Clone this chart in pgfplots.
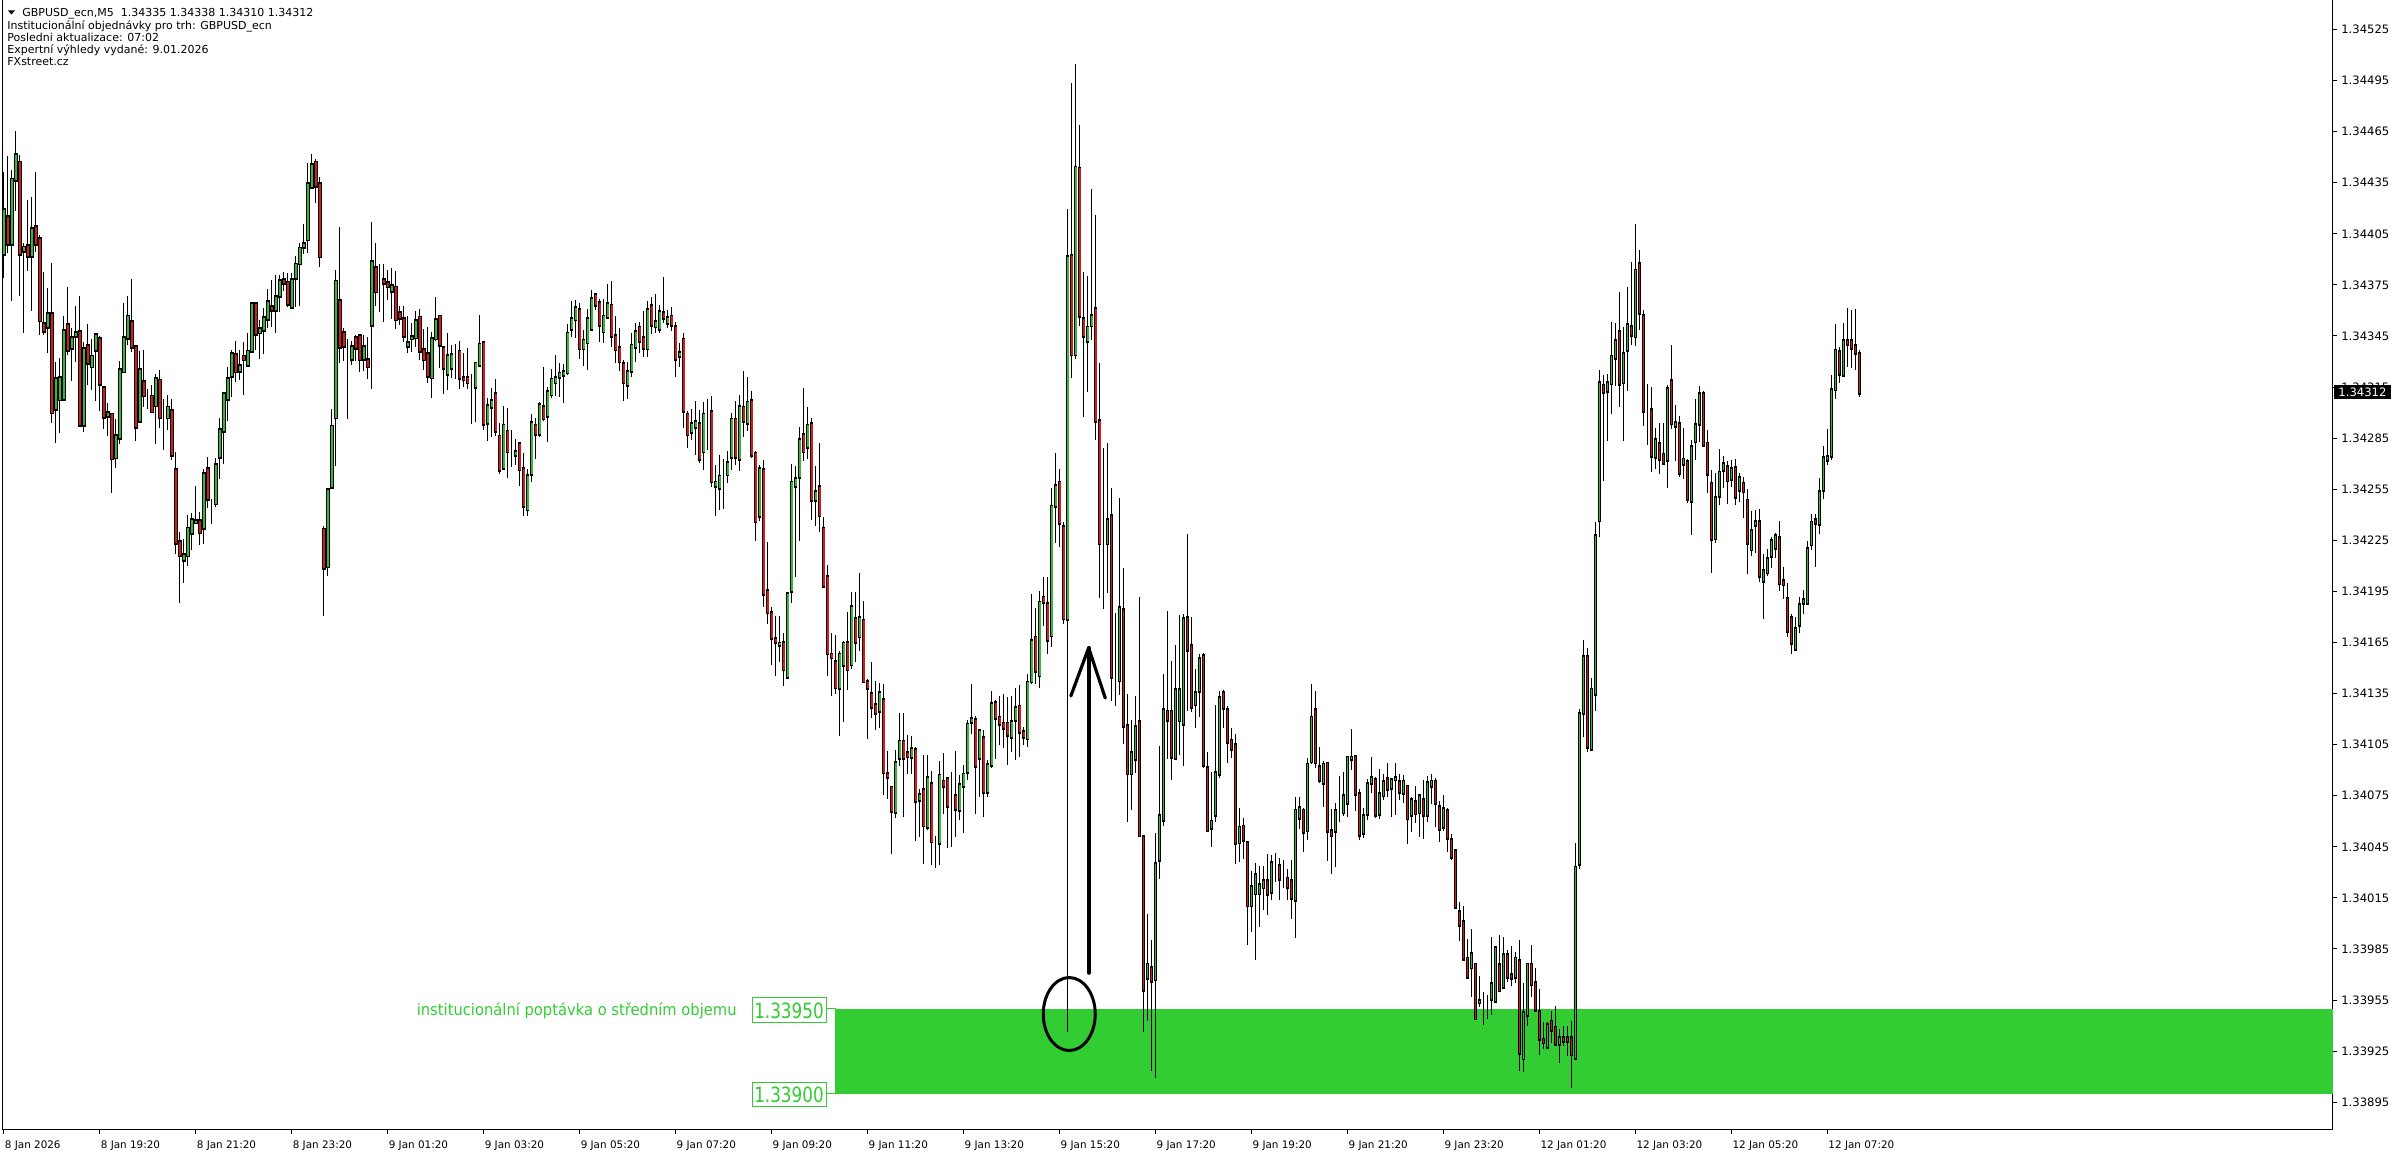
\documentclass[border=0pt]{standalone}
\usepackage{fontspec}
\setmainfont{DejaVu Sans}
\usepackage{pgfplots}
\pgfplotsset{compat=1.18}
\usepackage{pgfplotstable}
\usepackage{graphicx}

\definecolor{bull}{RGB}{52,185,52}
\definecolor{bear}{RGB}{215,25,25}
\definecolor{zone}{RGB}{50,205,50}
\newcommand{\tickfont}{\fontsize{5.2}{6}\selectfont}
\newcommand{\ytickfont}{\fontsize{5.8}{6.5}\selectfont}
\newcommand{\hdrfont}{\fontsize{5.5}{6.5}\selectfont}

% M5 candles, one row per bar: open high low close
\pgfplotstableread{
o h l c
1.34393 1.34442 1.34380 1.34419
1.34416 1.34452 1.34395 1.34400
1.34400 1.34443 1.34366 1.34438
1.34437 1.34466 1.34419 1.34452
1.34447 1.34452 1.34369 1.34393
1.34396 1.34400 1.34347 1.34398
1.34398 1.34425 1.34383 1.34392
1.34392 1.34427 1.34360 1.34408
1.34410 1.34442 1.34395 1.34400
1.34403 1.34405 1.34346 1.34355
1.34354 1.34383 1.34346 1.34350
1.34350 1.34373 1.34335 1.34358
1.34359 1.34389 1.34295 1.34301
1.34302 1.34331 1.34283 1.34320
1.34308 1.34332 1.34288 1.34321
1.34309 1.34357 1.34308 1.34349
1.34352 1.34375 1.34335 1.34337
1.34339 1.34350 1.34319 1.34345
1.34346 1.34363 1.34330 1.34348
1.34349 1.34370 1.34293 1.34294
1.34294 1.34342 1.34289 1.34339
1.34339 1.34352 1.34316 1.34329
1.34329 1.34344 1.34314 1.34335
1.34337 1.34347 1.34308 1.34346
1.34345 1.34346 1.34302 1.34318
1.34315 1.34317 1.34292 1.34298
1.34298 1.34306 1.34287 1.34300
1.34300 1.34300 1.34254 1.34274
1.34274 1.34297 1.34268 1.34287
1.34285 1.34331 1.34282 1.34325
1.34325 1.34366 1.34325 1.34345
1.34345 1.34369 1.34340 1.34358
1.34354 1.34379 1.34336 1.34339
1.34339 1.34339 1.34284 1.34292
1.34295 1.34337 1.34295 1.34325
1.34318 1.34337 1.34304 1.34310
1.34308 1.34315 1.34303 1.34308
1.34310 1.34316 1.34300 1.34301
1.34305 1.34323 1.34282 1.34321
1.34320 1.34325 1.34291 1.34298
1.34297 1.34308 1.34278 1.34297
1.34298 1.34312 1.34291 1.34304
1.34302 1.34308 1.34272 1.34276
1.34267 1.34277 1.34217 1.34224
1.34224 1.34231 1.34189 1.34216
1.34214 1.34227 1.34201 1.34217
1.34217 1.34241 1.34211 1.34233
1.34230 1.34242 1.34220 1.34238
1.34237 1.34257 1.34237 1.34238
1.34237 1.34242 1.34223 1.34230
1.34233 1.34268 1.34224 1.34265
1.34267 1.34274 1.34244 1.34249
1.34248 1.34250 1.34235 1.34248
1.34247 1.34274 1.34245 1.34270
1.34274 1.34298 1.34262 1.34290
1.34290 1.34313 1.34271 1.34312
1.34308 1.34327 1.34295 1.34320
1.34322 1.34338 1.34310 1.34335
1.34335 1.34344 1.34320 1.34325
1.34326 1.34337 1.34319 1.34329
1.34334 1.34343 1.34312 1.34332
1.34329 1.34347 1.34327 1.34337
1.34337 1.34366 1.34336 1.34365
1.34365 1.34365 1.34339 1.34347
1.34347 1.34355 1.34332 1.34349
1.34349 1.34362 1.34335 1.34356
1.34356 1.34373 1.34350 1.34366
1.34363 1.34379 1.34351 1.34361
1.34361 1.34382 1.34348 1.34369
1.34370 1.34382 1.34360 1.34379
1.34379 1.34382 1.34371 1.34377
1.34378 1.34382 1.34362 1.34365
1.34363 1.34382 1.34362 1.34379
1.34380 1.34393 1.34363 1.34388
1.34388 1.34400 1.34363 1.34397
1.34397 1.34412 1.34394 1.34399
1.34402 1.34446 1.34393 1.34435
1.34434 1.34453 1.34433 1.34447
1.34448 1.34449 1.34423 1.34434
1.34436 1.34439 1.34386 1.34393
1.34232 1.34234 1.34181 1.34209
1.34210 1.34257 1.34205 1.34255
1.34257 1.34302 1.34256 1.34293
1.34298 1.34384 1.34269 1.34378
1.34366 1.34409 1.34329 1.34339
1.34347 1.34350 1.34331 1.34339
1.34339 1.34345 1.34298 1.34339
1.34332 1.34343 1.34329 1.34339
1.34345 1.34347 1.34332 1.34339
1.34346 1.34347 1.34325 1.34332
1.34332 1.34346 1.34325 1.34339
1.34332 1.34346 1.34321 1.34328
1.34353 1.34413 1.34315 1.34390
1.34386 1.34400 1.34363 1.34372
1.34376 1.34388 1.34360 1.34376
1.34378 1.34388 1.34354 1.34376
1.34377 1.34384 1.34366 1.34375
1.34373 1.34386 1.34356 1.34376
1.34375 1.34384 1.34350 1.34356
1.34359 1.34363 1.34352 1.34356
1.34357 1.34363 1.34342 1.34347
1.34340 1.34358 1.34336 1.34342
1.34345 1.34353 1.34336 1.34346
1.34345 1.34361 1.34340 1.34355
1.34356 1.34362 1.34332 1.34336
1.34338 1.34349 1.34325 1.34332
1.34335 1.34351 1.34318 1.34322
1.34322 1.34348 1.34309 1.34345
1.34345 1.34369 1.34343 1.34356
1.34356 1.34357 1.34327 1.34339
1.34339 1.34340 1.34312 1.34327
1.34323 1.34349 1.34315 1.34334
1.34328 1.34341 1.34322 1.34336
1.34336 1.34342 1.34321 1.34336
1.34336 1.34343 1.34315 1.34320
1.34321 1.34335 1.34315 1.34320
1.34321 1.34339 1.34315 1.34318
1.34317 1.34323 1.34294 1.34317
1.34315 1.34330 1.34295 1.34329
1.34329 1.34358 1.34329 1.34341
1.34342 1.34342 1.34291 1.34294
1.34294 1.34309 1.34284 1.34304
1.34304 1.34315 1.34286 1.34308
1.34312 1.34321 1.34287 1.34290
1.34287 1.34295 1.34265 1.34267
1.34269 1.34305 1.34269 1.34294
1.34290 1.34303 1.34262 1.34278
1.34278 1.34290 1.34268 1.34278
1.34276 1.34286 1.34271 1.34278
1.34282 1.34284 1.34258 1.34267
1.34267 1.34276 1.34239 1.34245
1.34244 1.34267 1.34239 1.34264
1.34264 1.34300 1.34260 1.34294
1.34293 1.34298 1.34274 1.34288
1.34288 1.34307 1.34286 1.34305
1.34305 1.34327 1.34295 1.34298
1.34298 1.34316 1.34284 1.34312
1.34312 1.34327 1.34310 1.34321
1.34318 1.34335 1.34311 1.34321
1.34321 1.34329 1.34309 1.34323
1.34323 1.34329 1.34306 1.34325
1.34325 1.34352 1.34322 1.34348
1.34350 1.34366 1.34345 1.34356
1.34355 1.34367 1.34345 1.34362
1.34361 1.34365 1.34332 1.34338
1.34338 1.34350 1.34329 1.34343
1.34341 1.34361 1.34325 1.34355
1.34350 1.34372 1.34348 1.34368
1.34369 1.34369 1.34361 1.34363
1.34365 1.34367 1.34342 1.34352
1.34349 1.34368 1.34342 1.34358
1.34357 1.34376 1.34357 1.34365
1.34364 1.34378 1.34339 1.34346
1.34346 1.34357 1.34329 1.34338
1.34339 1.34350 1.34325 1.34331
1.34329 1.34332 1.34308 1.34318
1.34317 1.34331 1.34309 1.34325
1.34325 1.34348 1.34322 1.34340
1.34339 1.34354 1.34331 1.34348
1.34351 1.34354 1.34336 1.34343
1.34345 1.34360 1.34333 1.34339
1.34339 1.34366 1.34333 1.34362
1.34363 1.34368 1.34346 1.34352
1.34352 1.34370 1.34347 1.34355
1.34350 1.34364 1.34348 1.34360
1.34359 1.34380 1.34353 1.34356
1.34353 1.34362 1.34351 1.34356
1.34357 1.34363 1.34349 1.34352
1.34352 1.34354 1.34322 1.34333
1.34334 1.34341 1.34327 1.34336
1.34343 1.34347 1.34291 1.34301
1.34300 1.34302 1.34280 1.34288
1.34289 1.34302 1.34284 1.34294
1.34292 1.34308 1.34276 1.34295
1.34295 1.34302 1.34271 1.34274
1.34278 1.34307 1.34267 1.34300
1.34300 1.34308 1.34278 1.34300
1.34301 1.34310 1.34257 1.34260
1.34257 1.34270 1.34240 1.34259
1.34257 1.34276 1.34244 1.34264
1.34264 1.34272 1.34243 1.34264
1.34264 1.34278 1.34259 1.34271
1.34274 1.34301 1.34268 1.34296
1.34297 1.34307 1.34269 1.34275
1.34273 1.34311 1.34266 1.34304
1.34303 1.34325 1.34286 1.34295
1.34295 1.34322 1.34290 1.34307
1.34308 1.34313 1.34274 1.34276
1.34277 1.34279 1.34226 1.34237
1.34239 1.34270 1.34237 1.34267
1.34267 1.34272 1.34186 1.34194
1.34196 1.34225 1.34177 1.34183
1.34184 1.34186 1.34152 1.34169
1.34167 1.34181 1.34146 1.34165
1.34165 1.34182 1.34155 1.34164
1.34165 1.34172 1.34141 1.34149
1.34145 1.34195 1.34145 1.34194
1.34195 1.34270 1.34188 1.34259
1.34257 1.34269 1.34204 1.34261
1.34262 1.34292 1.34225 1.34284
1.34288 1.34315 1.34272 1.34278
1.34281 1.34304 1.34273 1.34294
1.34295 1.34297 1.34237 1.34250
1.34250 1.34270 1.34235 1.34255
1.34257 1.34282 1.34230 1.34240
1.34233 1.34239 1.34198 1.34199
1.34204 1.34212 1.34147 1.34159
1.34158 1.34172 1.34135 1.34156
1.34155 1.34170 1.34135 1.34140
1.34138 1.34161 1.34111 1.34158
1.34152 1.34166 1.34118 1.34165
1.34165 1.34183 1.34137 1.34149
1.34152 1.34196 1.34151 1.34186
1.34180 1.34195 1.34154 1.34166
1.34169 1.34207 1.34161 1.34180
1.34179 1.34190 1.34143 1.34143
1.34142 1.34145 1.34110 1.34138
1.34136 1.34154 1.34121 1.34128
1.34129 1.34143 1.34114 1.34124
1.34124 1.34141 1.34115 1.34135
1.34132 1.34141 1.34076 1.34089
1.34088 1.34101 1.34073 1.34086
1.34081 1.34081 1.34042 1.34067
1.34067 1.34103 1.34063 1.34096
1.34097 1.34124 1.34093 1.34107
1.34108 1.34124 1.34063 1.34098
1.34101 1.34111 1.34088 1.34099
1.34098 1.34110 1.34088 1.34103
1.34103 1.34104 1.34049 1.34073
1.34073 1.34080 1.34052 1.34076
1.34079 1.34099 1.34035 1.34058
1.34058 1.34100 1.34056 1.34087
1.34083 1.34091 1.34036 1.34049
1.34048 1.34053 1.34034 1.34048
1.34048 1.34096 1.34035 1.34088
1.34085 1.34101 1.34065 1.34082
1.34086 1.34087 1.34046 1.34070
1.34071 1.34090 1.34046 1.34071
1.34076 1.34102 1.34052 1.34068
1.34067 1.34088 1.34062 1.34082
1.34081 1.34093 1.34053 1.34088
1.34090 1.34120 1.34085 1.34118
1.34118 1.34141 1.34112 1.34120
1.34121 1.34123 1.34065 1.34094
1.34097 1.34114 1.34075 1.34113
1.34109 1.34114 1.34063 1.34077
1.34078 1.34097 1.34075 1.34094
1.34093 1.34138 1.34093 1.34129
1.34130 1.34132 1.34097 1.34121
1.34122 1.34134 1.34105 1.34118
1.34118 1.34135 1.34103 1.34115
1.34118 1.34134 1.34094 1.34111
1.34111 1.34135 1.34102 1.34120
1.34121 1.34139 1.34097 1.34128
1.34129 1.34140 1.34098 1.34114
1.34114 1.34116 1.34105 1.34111
1.34109 1.34147 1.34104 1.34142
1.34142 1.34194 1.34141 1.34166
1.34169 1.34186 1.34141 1.34149
1.34147 1.34196 1.34139 1.34190
1.34192 1.34204 1.34175 1.34189
1.34188 1.34204 1.34159 1.34167
1.34170 1.34256 1.34163 1.34246
1.34246 1.34277 1.34224 1.34258
1.34259 1.34267 1.34221 1.34235
1.34234 1.34237 1.34177 1.34180
1.34179 1.34420 1.33937 1.34392
1.34393 1.34495 1.34322 1.34335
1.34334 1.34505 1.34332 1.34444
1.34444 1.34470 1.34352 1.34357
1.34357 1.34383 1.34298 1.34347
1.34342 1.34381 1.34313 1.34350
1.34352 1.34432 1.34343 1.34358
1.34362 1.34417 1.34285 1.34296
1.34296 1.34330 1.34192 1.34224
1.34225 1.34280 1.34185 1.34225
1.34224 1.34282 1.34194 1.34238
1.34240 1.34257 1.34132 1.34145
1.34146 1.34184 1.34129 1.34146
1.34144 1.34251 1.34135 1.34187
1.34186 1.34209 1.34106 1.34118
1.34117 1.34136 1.34061 1.34089
1.34089 1.34120 1.34067 1.34101
1.34098 1.34135 1.34090 1.34117
1.34119 1.34192 1.34052 1.34052
1.34052 1.34053 1.33937 1.33962
1.33969 1.34006 1.33943 1.33977
1.33976 1.33992 1.33915 1.33968
1.33968 1.34054 1.33910 1.34036
1.34038 1.34105 1.34027 1.34064
1.34061 1.34147 1.34058 1.34126
1.34125 1.34185 1.34098 1.34120
1.34125 1.34154 1.34084 1.34098
1.34098 1.34163 1.34096 1.34138
1.34120 1.34181 1.34099 1.34138
1.34118 1.34182 1.34093 1.34180
1.34180 1.34230 1.34126 1.34161
1.34163 1.34181 1.34125 1.34127
1.34129 1.34150 1.34115 1.34136
1.34137 1.34159 1.34122 1.34156
1.34157 1.34159 1.34091 1.34093
1.34092 1.34101 1.34054 1.34055
1.34057 1.34089 1.34045 1.34061
1.34064 1.34129 1.34060 1.34089
1.34088 1.34138 1.34087 1.34133
1.34136 1.34138 1.34116 1.34127
1.34126 1.34129 1.34096 1.34107
1.34108 1.34116 1.34098 1.34103
1.34105 1.34112 1.34036 1.34047
1.34047 1.34069 1.34037 1.34056
1.34058 1.34063 1.34039 1.34050
1.34048 1.34049 1.33988 1.34011
1.34011 1.34032 1.33996 1.34022
1.34018 1.34036 1.33979 1.34029
1.34018 1.34035 1.33999 1.34023
1.34022 1.34035 1.34009 1.34026
1.34026 1.34041 1.34005 1.34018
1.34019 1.34041 1.34014 1.34036
1.34036 1.34043 1.34026 1.34036
1.34035 1.34039 1.34014 1.34027
1.34028 1.34038 1.34022 1.34028
1.34028 1.34033 1.34015 1.34023
1.34025 1.34038 1.34003 1.34015
1.34014 1.34075 1.33992 1.34067
1.34063 1.34075 1.34056 1.34069
1.34068 1.34069 1.34043 1.34055
1.34056 1.34098 1.34050 1.34095
1.34096 1.34142 1.34095 1.34122
1.34126 1.34138 1.34093 1.34095
1.34093 1.34104 1.34083 1.34085
1.34084 1.34096 1.34069 1.34095
1.34095 1.34095 1.34038 1.34055
1.34056 1.34068 1.34030 1.34053
1.34056 1.34072 1.34034 1.34068
1.34067 1.34087 1.34060 1.34067
1.34065 1.34090 1.34064 1.34075
1.34071 1.34098 1.34063 1.34098
1.34098 1.34114 1.34090 1.34099
1.34099 1.34099 1.34067 1.34077
1.34077 1.34080 1.34050 1.34053
1.34053 1.34069 1.34051 1.34063
1.34064 1.34085 1.34061 1.34082
1.34083 1.34098 1.34077 1.34086
1.34085 1.34087 1.34063 1.34064
1.34064 1.34091 1.34062 1.34076
1.34076 1.34088 1.34073 1.34084
1.34085 1.34094 1.34074 1.34079
1.34080 1.34087 1.34064 1.34085
1.34085 1.34095 1.34064 1.34086
1.34084 1.34088 1.34073 1.34078
1.34077 1.34087 1.34071 1.34084
1.34082 1.34082 1.34047 1.34063
1.34064 1.34075 1.34054 1.34073
1.34073 1.34082 1.34060 1.34066
1.34065 1.34075 1.34052 1.34075
1.34074 1.34085 1.34050 1.34065
1.34064 1.34087 1.34060 1.34083
1.34082 1.34089 1.34071 1.34085
1.34084 1.34087 1.34058 1.34071
1.34070 1.34073 1.34049 1.34057
1.34057 1.34076 1.34055 1.34068
1.34067 1.34069 1.34043 1.34051
1.34050 1.34053 1.34038 1.34040
1.34043 1.34043 1.34009 1.34010
1.34008 1.34013 1.33990 1.34000
1.34002 1.34010 1.33978 1.33980
1.33980 1.33991 1.33969 1.33969
1.33975 1.33997 1.33957 1.33983
1.33976 1.33976 1.33944 1.33944
1.33954 1.33969 1.33951 1.33955
1.33956 1.33959 1.33940 1.33956
1.33957 1.33959 1.33945 1.33957
1.33956 1.33993 1.33947 1.33965
1.33956 1.33987 1.33956 1.33987
1.33976 1.33993 1.33961 1.33961
1.33963 1.33992 1.33962 1.33982
1.33982 1.33985 1.33966 1.33969
1.33971 1.33987 1.33964 1.33969
1.33969 1.33983 1.33965 1.33980
1.33979 1.33991 1.33914 1.33925
1.33921 1.33965 1.33913 1.33948
1.33947 1.33978 1.33941 1.33977
1.33977 1.33988 1.33957 1.33965
1.33965 1.33975 1.33949 1.33949
1.33949 1.33962 1.33923 1.33933
1.33933 1.33942 1.33926 1.33931
1.33929 1.33942 1.33926 1.33942
1.33944 1.33949 1.33930 1.33939
1.33940 1.33952 1.33929 1.33930
1.33930 1.33939 1.33919 1.33934
1.33934 1.33940 1.33928 1.33932
1.33934 1.33940 1.33922 1.33932
1.33933 1.33943 1.33904 1.33923
1.33922 1.34049 1.33922 1.34034
1.34035 1.34127 1.34033 1.34123
1.34124 1.34167 1.34110 1.34157
1.34156 1.34162 1.34101 1.34103
1.34104 1.34145 1.34103 1.34139
1.34136 1.34236 1.34125 1.34229
1.34237 1.34325 1.34227 1.34318
1.34317 1.34323 1.34261 1.34313
1.34313 1.34323 1.34284 1.34318
1.34317 1.34354 1.34300 1.34333
1.34333 1.34353 1.34316 1.34343
1.34349 1.34371 1.34303 1.34318
1.34319 1.34351 1.34284 1.34336
1.34337 1.34374 1.34313 1.34352
1.34351 1.34389 1.34340 1.34346
1.34345 1.34411 1.34339 1.34384
1.34388 1.34396 1.34349 1.34359
1.34358 1.34361 1.34293 1.34302
1.34303 1.34317 1.34281 1.34303
1.34302 1.34315 1.34265 1.34275
1.34274 1.34291 1.34267 1.34284
1.34283 1.34295 1.34265 1.34274
1.34276 1.34294 1.34270 1.34271
1.34272 1.34317 1.34257 1.34314
1.34319 1.34340 1.34291 1.34294
1.34293 1.34305 1.34272 1.34295
1.34294 1.34299 1.34263 1.34265
1.34270 1.34291 1.34261 1.34273
1.34272 1.34275 1.34249 1.34250
1.34249 1.34285 1.34229 1.34281
1.34283 1.34309 1.34273 1.34293
1.34293 1.34316 1.34283 1.34311
1.34311 1.34313 1.34280 1.34281
1.34283 1.34290 1.34253 1.34265
1.34259 1.34267 1.34207 1.34226
1.34226 1.34265 1.34224 1.34250
1.34251 1.34280 1.34247 1.34265
1.34267 1.34275 1.34256 1.34271
1.34269 1.34273 1.34248 1.34261
1.34262 1.34273 1.34257 1.34268
1.34269 1.34273 1.34246 1.34252
1.34255 1.34265 1.34248 1.34262
1.34259 1.34262 1.34238 1.34254
1.34249 1.34256 1.34206 1.34224
1.34221 1.34242 1.34216 1.34232
1.34234 1.34243 1.34218 1.34236
1.34236 1.34244 1.34201 1.34204
1.34202 1.34217 1.34179 1.34208
1.34207 1.34221 1.34205 1.34215
1.34215 1.34228 1.34210 1.34224
1.34221 1.34231 1.34216 1.34228
1.34227 1.34237 1.34196 1.34200
1.34202 1.34209 1.34190 1.34200
1.34192 1.34201 1.34169 1.34173
1.34181 1.34184 1.34160 1.34166
1.34162 1.34182 1.34162 1.34174
1.34176 1.34193 1.34172 1.34188
1.34189 1.34196 1.34182 1.34191
1.34189 1.34225 1.34188 1.34221
1.34223 1.34241 1.34220 1.34236
1.34238 1.34242 1.34211 1.34236
1.34235 1.34262 1.34229 1.34254
1.34255 1.34282 1.34251 1.34274
1.34273 1.34292 1.34271 1.34275
1.34275 1.34323 1.34273 1.34314
1.34314 1.34353 1.34309 1.34337
1.34336 1.34339 1.34318 1.34323
1.34323 1.34353 1.34322 1.34343
1.34343 1.34362 1.34327 1.34341
1.34343 1.34361 1.34327 1.34339
1.34340 1.34362 1.34326 1.34336
1.34335 1.34338 1.34310 1.34312
}\candles

\pgfplotsset{
  cndl/.style={draw=none, mark=none, forget plot,
    error bars/.cd, y dir=both, y explicit, error mark=none,
    error bar style={#1}},
}

\begin{document}
\begin{tikzpicture}
\path[use as bounding box] (0,0) rectangle (1198pt,577pt);
\begin{axis}[
  at={(1.35pt,12pt)}, anchor=south west,
  scale only axis, width=1165.15pt, height=565pt,
  xmin=-0.3, xmax=582.4, ymin=1.338787, ymax=1.345423,
  axis line style={black, line width=0.5pt},
  unbounded coords=discard,
  xtick={0,24,...,456},
  xticklabels={8 Jan 2026,8 Jan 19:20,8 Jan 21:20,8 Jan 23:20,9 Jan 01:20,9 Jan 03:20,9 Jan 05:20,9 Jan 07:20,9 Jan 09:20,9 Jan 11:20,9 Jan 13:20,9 Jan 15:20,9 Jan 17:20,9 Jan 19:20,9 Jan 21:20,9 Jan 23:20,12 Jan 01:20,12 Jan 03:20,12 Jan 05:20,12 Jan 07:20},
  ytick={1.33895,1.33925,1.33955,1.33985,1.34015,1.34045,1.34075,1.34105,1.34135,1.34165,1.34195,1.34225,1.34255,1.34285,1.34315,1.34345,1.34375,1.34405,1.34435,1.34465,1.34495,1.34525},
  yticklabels={1.33895,1.33925,1.33955,1.33985,1.34015,1.34045,1.34075,1.34105,1.34135,1.34165,1.34195,1.34225,1.34255,1.34285,1.34315,1.34345,1.34375,1.34405,1.34435,1.34465,1.34495,1.34525},
  xtick pos=bottom, ytick pos=right, yticklabel pos=right,
  tick align=outside, major tick length=2pt,
  tick style={black, line width=0.5pt},
  xticklabel style={anchor=north west, inner sep=0pt, xshift=0.3pt, yshift=-3pt, font=\tickfont},
  yticklabel style={anchor=west, inner sep=0pt, xshift=2pt, font=\ytickfont},
]
% demand zone 1.33900 - 1.33950
\addplot[fill=zone, draw=none, forget plot] coordinates {(207.9,1.33900) (582.4,1.33900) (582.4,1.33950) (207.9,1.33950)} -- cycle;
% wicks
\addplot[cndl={draw=black, line width=0.5pt}] table[x expr=\coordindex, y expr=(\thisrow{h}+\thisrow{l})/2, y error expr=(\thisrow{h}-\thisrow{l})/2] {\candles};
% body outlines
\addplot[cndl={draw=black, line width=1.7pt, line cap=rect}] table[x expr=\coordindex, y expr=(\thisrow{o}+\thisrow{c})/2, y error expr=abs(\thisrow{o}-\thisrow{c})/2] {\candles};
% body fills
\addplot[cndl={draw=bull, line width=0.85pt}] table[x expr={\thisrow{c}>=\thisrow{o} ? \coordindex : nan}, y expr=(\thisrow{o}+\thisrow{c})/2, y error expr=abs(\thisrow{o}-\thisrow{c})/2] {\candles};
\addplot[cndl={draw=bear, line width=0.85pt}] table[x expr={\thisrow{c}<\thisrow{o} ? \coordindex : nan}, y expr=(\thisrow{o}+\thisrow{c})/2, y error expr=abs(\thisrow{o}-\thisrow{c})/2] {\candles};
% annotations
\draw[line width=1.5pt] (axis cs:266.4,1.339468) ellipse [x radius=13pt, y radius=18.25pt];
\draw[line width=2pt, line cap=round] (axis cs:271.25,1.33971) -- (axis cs:271.25,1.341618);
\draw[line width=1.6pt, line cap=round, line join=round] (axis cs:266.8,1.341336) -- (axis cs:271.25,1.341618) -- (axis cs:275.4,1.341324);
\end{axis}
\begin{scope}[x=0.5pt, y=-0.5pt, shift={(0pt,577pt)}]
  % header
  \fill (8,10.5) -- (15,10.5) -- (11.5,14.5) -- cycle;
  \node[anchor=base west, inner sep=0pt, font=\hdrfont] at (22,16.7) {GBPUSD\_ecn,M5\ \ 1.34335 1.34338 1.34310 1.34312};
  \node[anchor=base west, inner sep=0pt, font=\hdrfont] at (7,29.3) {Institucionální objednávky pro trh: GBPUSD\_ecn};
  \node[anchor=base west, inner sep=0pt, font=\hdrfont] at (7,41.3) {Posledni aktualizace: 07:02};
  \node[anchor=base west, inner sep=0pt, font=\hdrfont] at (7,53.3) {Expertní výhledy vydané: 9.01.2026};
  \node[anchor=base west, inner sep=0pt, font=\hdrfont] at (7,65.3) {FXstreet.cz};
  % zone labels
  \node[anchor=base east, inner sep=0pt, text=zone, font=\fontsize{8}{9}\selectfont] at (737,1016) {\scalebox{0.92}[1]{institucionální poptávka o středním objemu}};
  \draw[zone, line width=0.5pt, fill=white] (752,998) rectangle (826,1023);
  \node[inner sep=0pt, text=zone, font=\fontsize{10.5}{11}\selectfont] at (789,1010.5) {\scalebox{0.8}[1]{1.33950}};
  \draw[zone, line width=0.5pt] (826,1009) -- (836,1009);
  \draw[zone, line width=0.5pt, fill=white] (752,1083) rectangle (826,1107);
  \node[inner sep=0pt, text=zone, font=\fontsize{10.5}{11}\selectfont] at (789,1095) {\scalebox{0.8}[1]{1.33900}};
  \draw[zone, line width=0.5pt] (826,1094) -- (836,1094);
  % last price marker
  \fill[black] (2333.5,385.5) rectangle (2391,399);
  \node[anchor=west, inner sep=0pt, text=white, font=\ytickfont] at (2338,392.3) {1.34312};
\end{scope}
\end{tikzpicture}
\end{document}
